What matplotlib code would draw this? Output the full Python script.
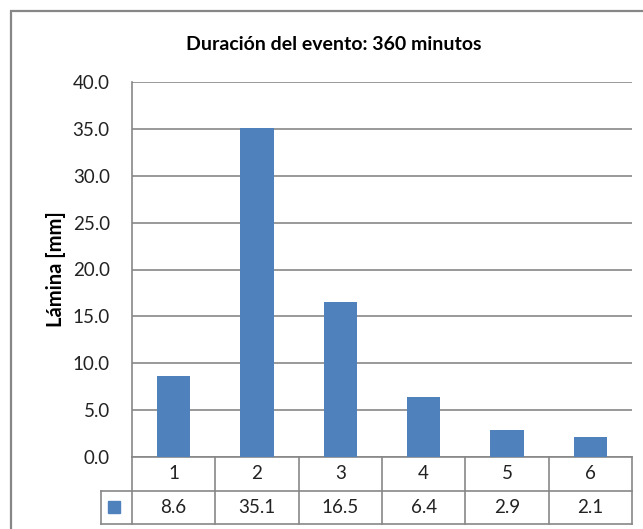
import matplotlib
matplotlib.use("Agg")
import matplotlib.pyplot as plt
from matplotlib.patches import Rectangle
from matplotlib.lines import Line2D

categories = ["1", "2", "3", "4", "5", "6"]
lamina = [8.6, 35.1, 16.5, 6.4, 2.9, 2.1]
yticks = [0, 5, 10, 15, 20, 25, 30, 35, 40]

W, H = 643, 529
plt.rcParams["font.family"] = ["Lato", "DejaVu Sans"]
fig = plt.figure(figsize=(W / 100, H / 100), dpi=100)

bar_color = "#4F81BD"
grid_color = "#878787"
label_color = "#222222"

def fx(px):
    return px / W

def fy(py):
    return 1 - py / H

# chart frame
fig.patches.append(Rectangle((fx(11), fy(560)), fx(700), fy(11) - fy(560),
                             transform=fig.transFigure, fill=False,
                             edgecolor=grid_color, linewidth=1.6))

left, right, top, bottom = 132, 632, 82, 457
ax = fig.add_axes([fx(left), fy(bottom), fx(right) - fx(left), fy(top) - fy(bottom)])

x = list(range(len(categories)))
ax.bar(x, lamina, width=0.4, color=bar_color, zorder=3)
ax.set_xlim(-0.5, len(categories) - 0.5)
ax.set_ylim(0, 40)
ax.set_yticks(yticks)
ax.set_yticklabels([f"{v:.1f}" for v in yticks], fontsize=13.5, color=label_color)
ax.tick_params(axis="y", length=0, pad=16)
ax.set_xticks([])
ax.yaxis.grid(True, color=grid_color, linewidth=1.2, zorder=0)
for s in ["top", "right", "bottom"]:
    ax.spines[s].set_visible(False)
ax.spines["left"].set_color(grid_color)
ax.spines["left"].set_linewidth(1.2)

ax.set_ylabel("Lámina [mm]", fontsize=14.5, fontweight="bold", labelpad=5)
fig.text(fx(334), fy(44), "Duración del evento: 360 minutos", ha="center",
         va="center", fontsize=14, fontweight="bold")

# data table below the axis, positioned in category units along x
tr = ax.get_xaxis_transform()
row_h = 33.5 / (bottom - top)   # one table row in axes fraction
y0, y1, y2 = 0, -row_h, -2 * row_h
lw = 1.2
key_w = 31 / 83.3               # width of the legend-key cell in category units
xl = -0.5 - key_w
ax.add_line(Line2D([-0.5, 5.5], [y0, y0], transform=tr, color=grid_color, lw=lw, clip_on=False))
ax.add_line(Line2D([xl, 5.5], [y1, y1], transform=tr, color=grid_color, lw=lw, clip_on=False))
ax.add_line(Line2D([xl, 5.5], [y2, y2], transform=tr, color=grid_color, lw=lw, clip_on=False))
for i in range(len(categories) + 1):
    xv = i - 0.5
    ax.add_line(Line2D([xv, xv], [y0, y2], transform=tr, color=grid_color, lw=lw, clip_on=False))
ax.add_line(Line2D([xl, xl], [y1, y2], transform=tr, color=grid_color, lw=lw, clip_on=False))
# legend key
ax.add_patch(Rectangle((xl + 7 / 83.3, (y1 + y2) / 2 - 6 / (bottom - top)), 12 / 83.3,
                       12 / (bottom - top), transform=tr, color=bar_color, clip_on=False))
for i, (c, v) in enumerate(zip(categories, lamina)):
    ax.text(i, (y0 + y1) / 2, c, transform=tr, ha="center", va="center",
            fontsize=13.5, color=label_color)
    ax.text(i, (y1 + y2) / 2, f"{v:.1f}", transform=tr, ha="center", va="center",
            fontsize=13.5, color=label_color)

fig.savefig("out.png", dpi=100)
